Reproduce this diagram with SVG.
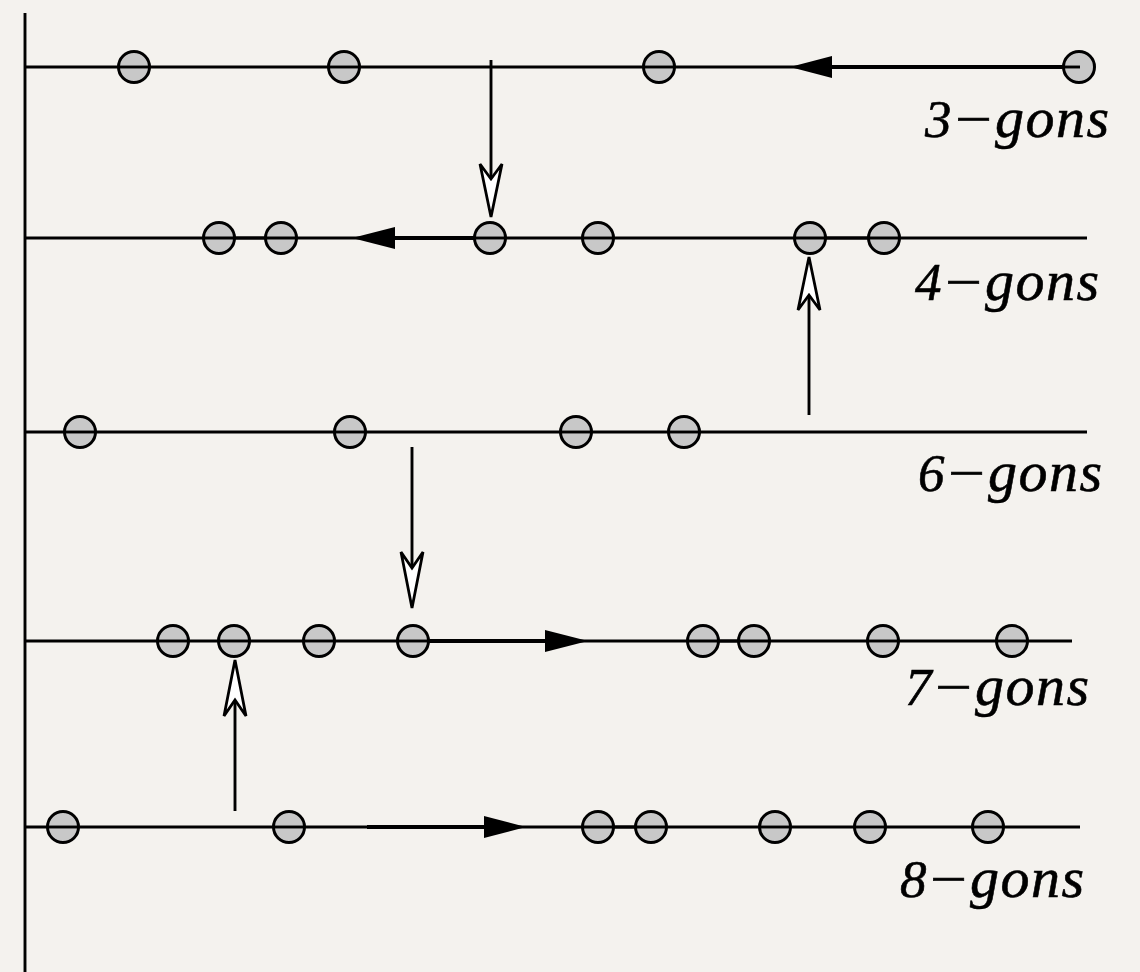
<svg xmlns="http://www.w3.org/2000/svg" width="1140" height="972" viewBox="0 0 1140 972">
<style>
.bg{fill:#f4f2ee}
.ln{stroke:#000;stroke-width:2.9;fill:none}
.thick{stroke:#000;stroke-width:3.8;fill:none}
.dot{fill:#c8c8c8;stroke:#000;stroke-width:3}
.solid{fill:#000;stroke:none}
.hollow{fill:#fff;stroke:#000;stroke-width:2.8;stroke-linejoin:miter}
.t{font-family:"Liberation Serif","Times New Roman",serif;font-style:italic;font-size:53px;fill:#000;stroke:#000;stroke-width:0.6}
.g{font-size:58px;letter-spacing:1.5px}
</style>
<rect class="bg" x="0" y="0" width="1140" height="972"/>

<g id="rows">
<line class="ln" x1="25" y1="13" x2="25" y2="972"/>
<line class="ln" x1="25" y1="67" x2="1080" y2="67"/>
<line class="ln" x1="25" y1="238" x2="1087" y2="238"/>
<line class="ln" x1="25" y1="432" x2="1087" y2="432"/>
<line class="ln" x1="25" y1="641" x2="1072" y2="641"/>
<line class="ln" x1="25" y1="827" x2="1080" y2="827"/>
</g>

<g id="row3-nodes">
<circle class="dot" cx="134" cy="67" r="15.5"/>
<circle class="dot" cx="344" cy="67" r="15.5"/>
<circle class="dot" cx="659" cy="67" r="15.5"/>
<circle class="dot" cx="1079" cy="67" r="15.5"/>
</g>
<g id="row4-nodes">
<circle class="dot" cx="219" cy="238" r="15.5"/>
<circle class="dot" cx="281" cy="238" r="15.5"/>
<circle class="dot" cx="490" cy="238" r="15.5"/>
<circle class="dot" cx="598" cy="238" r="15.5"/>
<circle class="dot" cx="810" cy="238" r="15.5"/>
<circle class="dot" cx="884" cy="238" r="15.5"/>
</g>
<g id="row6-nodes">
<circle class="dot" cx="80" cy="432" r="15.5"/>
<circle class="dot" cx="350" cy="432" r="15.5"/>
<circle class="dot" cx="576" cy="432" r="15.5"/>
<circle class="dot" cx="684" cy="432" r="15.5"/>
</g>
<g id="row7-nodes">
<circle class="dot" cx="173" cy="641" r="15.5"/>
<circle class="dot" cx="234" cy="641" r="15.5"/>
<circle class="dot" cx="319" cy="641" r="15.5"/>
<circle class="dot" cx="413" cy="641" r="15.5"/>
<circle class="dot" cx="703" cy="641" r="15.5"/>
<circle class="dot" cx="754" cy="641" r="15.5"/>
<circle class="dot" cx="883" cy="641" r="15.5"/>
<circle class="dot" cx="1012" cy="641" r="15.5"/>
</g>
<g id="row8-nodes">
<circle class="dot" cx="63" cy="827" r="15.5"/>
<circle class="dot" cx="289" cy="827" r="15.5"/>
<circle class="dot" cx="598" cy="827" r="15.5"/>
<circle class="dot" cx="651" cy="827" r="15.5"/>
<circle class="dot" cx="775" cy="827" r="15.5"/>
<circle class="dot" cx="870" cy="827" r="15.5"/>
<circle class="dot" cx="988" cy="827" r="15.5"/>
</g>

<g id="row-lines-over">
<line class="ln" x1="119" y1="67" x2="149" y2="67"/>
<line class="ln" x1="329" y1="67" x2="359" y2="67"/>
<line class="ln" x1="644" y1="67" x2="674" y2="67"/>
<line class="ln" x1="1064" y1="67" x2="1080" y2="67"/>
<line class="ln" x1="204" y1="238" x2="296" y2="238"/>
<line class="ln" x1="475" y1="238" x2="505" y2="238"/>
<line class="ln" x1="583" y1="238" x2="613" y2="238"/>
<line class="ln" x1="795" y1="238" x2="899" y2="238"/>
<line class="ln" x1="65" y1="432" x2="95" y2="432"/>
<line class="ln" x1="335" y1="432" x2="365" y2="432"/>
<line class="ln" x1="561" y1="432" x2="591" y2="432"/>
<line class="ln" x1="669" y1="432" x2="699" y2="432"/>
<line class="ln" x1="158" y1="641" x2="188" y2="641"/>
<line class="ln" x1="219" y1="641" x2="249" y2="641"/>
<line class="ln" x1="304" y1="641" x2="334" y2="641"/>
<line class="ln" x1="398" y1="641" x2="428" y2="641"/>
<line class="ln" x1="688" y1="641" x2="769" y2="641"/>
<line class="ln" x1="868" y1="641" x2="898" y2="641"/>
<line class="ln" x1="997" y1="641" x2="1027" y2="641"/>
<line class="ln" x1="48" y1="827" x2="78" y2="827"/>
<line class="ln" x1="274" y1="827" x2="304" y2="827"/>
<line class="ln" x1="583" y1="827" x2="666" y2="827"/>
<line class="ln" x1="760" y1="827" x2="790" y2="827"/>
<line class="ln" x1="855" y1="827" x2="885" y2="827"/>
<line class="ln" x1="973" y1="827" x2="1003" y2="827"/>
</g>

<g id="connectors">
<line class="thick" x1="831" y1="67" x2="1064" y2="67"/>
<polygon class="solid" points="790,67 832,56 832,78"/>
<line class="thick" x1="394" y1="238" x2="475" y2="238"/>
<polygon class="solid" points="352,238 395,227 395,249"/>
<line class="thick" x1="428" y1="641" x2="546" y2="641"/>
<polygon class="solid" points="588,641 545,630 545,652"/>
<line class="thick" x1="367" y1="827" x2="485" y2="827"/>
<polygon class="solid" points="526,827 484,816 484,838"/>

<line class="ln" x1="491" y1="60" x2="491" y2="178"/>
<polygon class="hollow" points="491,217 480,164 491,179 502,164"/>
<line class="ln" x1="809" y1="415" x2="809" y2="296"/>
<polygon class="hollow" points="809,257 798,310 809,295 820,310"/>
<line class="ln" x1="412" y1="447" x2="412" y2="567"/>
<polygon class="hollow" points="412,608 401,552 412,568 423,552"/>
<line class="ln" x1="235" y1="811" x2="235" y2="700"/>
<polygon class="hollow" points="235,660 224,716 235,700 246,716"/>
</g>

<g id="label-3">
<text class="t" x="925" y="137">3</text>
<text class="t" x="951" y="137" textLength="44" lengthAdjust="spacingAndGlyphs">−</text>
<text class="t g" x="995" y="137">gons</text>
</g>
<g id="label-4">
<text class="t" x="915" y="300">4</text>
<text class="t" x="941" y="300" textLength="44" lengthAdjust="spacingAndGlyphs">−</text>
<text class="t g" x="985" y="300">gons</text>
</g>
<g id="label-6">
<text class="t" x="918" y="491">6</text>
<text class="t" x="944" y="491" textLength="44" lengthAdjust="spacingAndGlyphs">−</text>
<text class="t g" x="988" y="491">gons</text>
</g>
<g id="label-7">
<text class="t" x="905" y="705">7</text>
<text class="t" x="931" y="705" textLength="44" lengthAdjust="spacingAndGlyphs">−</text>
<text class="t g" x="975" y="705">gons</text>
</g>
<g id="label-8">
<text class="t" x="900" y="897">8</text>
<text class="t" x="926" y="897" textLength="44" lengthAdjust="spacingAndGlyphs">−</text>
<text class="t g" x="970" y="897">gons</text>
</g>
</svg>
